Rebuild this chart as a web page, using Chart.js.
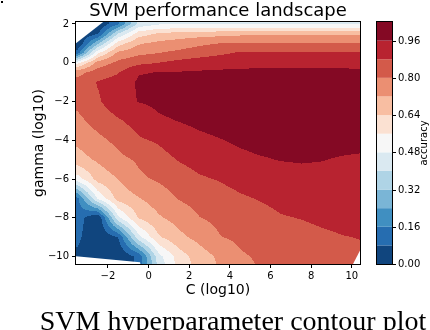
<!DOCTYPE html>
<html>
<head>
<meta charset="utf-8">
<script src="https://cdn.jsdelivr.net/npm/chart.js@4"></script>
<style>
  body { margin: 0; background: #fff; }
  canvas { display: block; }
</style>
</head>
<body>
<canvas id="contourChart" width="430" height="330"></canvas>
<script>
// grid nodes (log10 C across, log10 gamma down)
const cNodes = [-3.5, -2.5, -1.5, -0.5, 0.5, 1.5, 2.5, 3.5, 4.5, 5.5, 6.5, 7.5, 8.5, 9.5, 10.5];
const gammaNodes = [2, 1.5, 1, 0.5, 0, -0.5, -1, -2, -3, -4, -5, -6, -7, -8, -9, -10, -11];

// accuracy, one row per gamma node
const accG2    = [0.00, 0.00, 0.15, 0.42, 0.47, 0.47, 0.47, 0.47, 0.47, 0.47, 0.47, 0.47, 0.47, 0.47, 0.47];
const accG1_5  = [0.00, 0.07, 0.40, 0.60, 0.65, 0.67, 0.68, 0.69, 0.70, 0.70, 0.70, 0.70, 0.70, 0.70, 0.70];
const accG1    = [0.00, 0.30, 0.60, 0.71, 0.74, 0.76, 0.785, 0.80, 0.805, 0.805, 0.805, 0.805, 0.805, 0.805, 0.805];
const accG0_5  = [0.12, 0.55, 0.74, 0.78, 0.80, 0.82, 0.84, 0.865, 0.89, 0.89, 0.89, 0.89, 0.89, 0.89, 0.885];
const accG0    = [0.53, 0.75, 0.82, 0.86, 0.88, 0.905, 0.925, 0.935, 0.94, 0.945, 0.945, 0.945, 0.945, 0.945, 0.94];
const accGm0_5 = [0.77, 0.84, 0.875, 0.955, 0.962, 0.965, 0.968, 0.97, 0.972, 0.972, 0.972, 0.972, 0.972, 0.972, 0.97];
const accGm1   = [0.83, 0.885, 0.91, 0.97, 0.98, 0.985, 0.985, 0.985, 0.985, 0.985, 0.985, 0.985, 0.985, 0.985, 0.985];
const accGm2   = [0.82, 0.87, 0.93, 0.962, 0.975, 0.985, 0.985, 0.985, 0.985, 0.985, 0.985, 0.985, 0.985, 0.985, 0.985];
const accGm3   = [0.78, 0.83, 0.87, 0.91, 0.95, 0.962, 0.975, 0.985, 0.985, 0.985, 0.985, 0.985, 0.985, 0.985, 0.985];
const accGm4   = [0.735, 0.78, 0.82, 0.87, 0.89, 0.925, 0.945, 0.957, 0.97, 0.98, 0.98, 0.98, 0.98, 0.98, 0.98];
const accGm5   = [0.69, 0.73, 0.78, 0.81, 0.85, 0.885, 0.91, 0.93, 0.945, 0.955, 0.962, 0.965, 0.962, 0.955, 0.95];
const accGm6   = [0.52, 0.67, 0.72, 0.785, 0.81, 0.84, 0.87, 0.885, 0.905, 0.925, 0.935, 0.94, 0.94, 0.94, 0.935];
const accGm7   = [0.14, 0.49, 0.67, 0.715, 0.76, 0.805, 0.83, 0.85, 0.87, 0.885, 0.90, 0.91, 0.915, 0.915, 0.91];
const accGm8   = [0.12, 0.00, 0.46, 0.645, 0.71, 0.75, 0.798, 0.82, 0.84, 0.855, 0.875, 0.882, 0.89, 0.895, 0.895];
const accGm9   = [0.10, 0.00, 0.08, 0.45, 0.63, 0.70, 0.745, 0.797, 0.815, 0.835, 0.85, 0.86, 0.87, 0.878, 0.882];
const accGm10  = [0.06, 0.00, 0.00, 0.10, 0.45, 0.60, 0.68, 0.735, 0.79, 0.81, 0.825, 0.84, 0.855, 0.865, 0.87];
const accGm11  = [0.00, 0.00, 0.00, 0.10, 0.40, 0.58, 0.66, 0.72, 0.77, 0.80, 0.815, 0.83, 0.845, 0.855, 0.86];

// areas with no result (left white)
const noDataTopLeft = [[-3.8, 2.3], [-1.99, 2.3], [-3.8, 0.81]];
const noDataBottomLeft = [[-3.8, -9.96], [-0.42, -10.29], [-0.36, -10.6], [-3.8, -10.6]];
const noDataBottomRight = [[9.95, -10.6], [10.6, -9.27], [10.6, -10.6]];

const levels = [0.00, 0.08, 0.16, 0.24, 0.32, 0.40, 0.48, 0.56, 0.64, 0.72, 0.80, 0.88, 0.96, 1.04];
const bandColors = ['#10457e', '#266db0', '#408fc1', '#7ab5d6', '#afd4e6', '#dae9f1', '#f7f7f7',
                    '#fbe1d2', '#f8bea2', '#eb8f72', '#d35a4a', '#b82330', '#840924'];
const cTicks = [-2, 0, 2, 4, 6, 8, 10];
const gammaTicks = [-10, -8, -6, -4, -2, 0, 2];
const cbTicks = [0.00, 0.16, 0.32, 0.48, 0.64, 0.80, 0.96];

const accRows = [accG2, accG1_5, accG1, accG0_5, accG0, accGm0_5, accGm1, accGm2, accGm3,
                 accGm4, accGm5, accGm6, accGm7, accGm8, accGm9, accGm10, accGm11];

const FONT = '"DejaVu Sans", sans-serif';
const fmt = v => String(v).replace('-', '\u2212');

function cell(nodes, v) {
    // nodes may run up or down
    const n = nodes.length - 1;
    const dir = nodes[n] > nodes[0] ? 1 : -1;
    if ((v - nodes[0]) * dir <= 0) return [0, 0];
    if ((v - nodes[n]) * dir >= 0) return [n - 1, 1];
    let i = 0;
    while ((nodes[i + 1] - v) * dir < 0) i++;
    return [i, (v - nodes[i]) / (nodes[i + 1] - nodes[i])];
}

function accuracyAt(c, g) {
    const [i, tx] = cell(cNodes, c);
    const [j, ty] = cell(gammaNodes, g);
    const a = accRows[j][i], b = accRows[j][i + 1];
    const d = accRows[j + 1][i], e = accRows[j + 1][i + 1];
    return (a * (1 - tx) + b * tx) * (1 - ty) + (d * (1 - tx) + e * tx) * ty;
}

function hexRgb(h) {
    const n = parseInt(h.slice(1), 16);
    return [n >> 16, (n >> 8) & 255, n & 255];
}

const contourPlugin = {
    id: 'contour',
    beforeDatasetsDraw(chart) {
        const { ctx, chartArea: a, scales: { x, y } } = chart;
        const left = Math.round(a.left), top = Math.round(a.top);
        const w = Math.round(a.right) - left, h = Math.round(a.bottom) - top;
        const img = ctx.createImageData(w, h);
        const rgb = bandColors.map(hexRgb);
        for (let j = 0; j < h; j++) {
            const g = y.getValueForPixel(top + j + 0.5);
            for (let i = 0; i < w; i++) {
                const v = accuracyAt(x.getValueForPixel(left + i + 0.5), g);
                let k = 0;
                while (k < rgb.length - 1 && v >= levels[k + 1]) k++;
                const p = (j * w + i) * 4;
                img.data[p] = rgb[k][0];
                img.data[p + 1] = rgb[k][1];
                img.data[p + 2] = rgb[k][2];
                img.data[p + 3] = 255;
            }
        }
        ctx.putImageData(img, left, top);
    },
    afterDraw(chart) {
        const { ctx, chartArea: a, scales: { x, y, cb } } = chart;
        ctx.save();

        // blank out the empty corners
        ctx.save();
        ctx.beginPath();
        ctx.rect(a.left, a.top, a.right - a.left, a.bottom - a.top);
        ctx.clip();
        ctx.fillStyle = '#fff';
        [noDataTopLeft, noDataBottomLeft, noDataBottomRight].forEach(poly => {
            ctx.beginPath();
            poly.forEach(([c, g], n) => {
                const px = x.getPixelForValue(c), py = y.getPixelForValue(g);
                n ? ctx.lineTo(px, py) : ctx.moveTo(px, py);
            });
            ctx.closePath();
            ctx.fill();
        });
        ctx.restore();

        // frame round the plot
        ctx.strokeStyle = '#000';
        ctx.lineWidth = 1;
        ctx.strokeRect(a.left - 0.5, a.top - 0.5, a.right - a.left + 1, a.bottom - a.top + 1);

        // title, centred on the plot
        ctx.fillStyle = '#000';
        ctx.font = '18px ' + FONT;
        ctx.textAlign = 'center';
        ctx.textBaseline = 'alphabetic';
        ctx.fillText('SVM performance landscape', (a.left + a.right) / 2, 16);

        // colour bar
        const cbLeft = a.right + 17, cbW = 15;
        bandColors.forEach((col, k) => {
            const y1 = cb.getPixelForValue(levels[k]);
            const y2 = cb.getPixelForValue(levels[k + 1]);
            ctx.fillStyle = col;
            ctx.fillRect(cbLeft, y2, cbW, y1 - y2);
        });
        ctx.strokeRect(cbLeft - 0.5, a.top - 0.5, cbW + 1, a.bottom - a.top + 1);
        ctx.fillStyle = '#000';
        ctx.font = '10px ' + FONT;
        ctx.textAlign = 'left';
        ctx.textBaseline = 'middle';
        cbTicks.forEach(v => {
            const py = Math.round(cb.getPixelForValue(v)) + 0.5;
            ctx.beginPath();
            ctx.moveTo(cbLeft + cbW, py);
            ctx.lineTo(cbLeft + cbW + 4, py);
            ctx.stroke();
            ctx.fillText(v.toFixed(2), cbLeft + cbW + 6, py);
        });
        ctx.save();
        ctx.translate(424, (a.top + a.bottom) / 2);
        ctx.rotate(-Math.PI / 2);
        ctx.textAlign = 'center';
        ctx.fillText('accuracy', 0, 0);
        ctx.restore();

        // caption under the figure
        ctx.font = '28px "Liberation Serif", serif';
        ctx.textAlign = 'center';
        ctx.textBaseline = 'alphabetic';
        ctx.fillText('SVM hyperparameter contour plot', 233, 330);

        ctx.fillRect(1, 1, 2, 2);
        ctx.restore();
    }
};

const ctx = document.getElementById('contourChart').getContext('2d');
const contourChart = new Chart(ctx, {
    type: 'scatter',
    data: { datasets: [{ data: [] }] },
    options: {
        responsive: false,
        animation: false,
        devicePixelRatio: 1,
        layout: { padding: { left: 0, right: 70, top: 22, bottom: 0 } },
        plugins: {
            legend: { display: false },
            tooltip: { enabled: false },
            title: { display: false }
        },
        scales: {
            x: {
                type: 'linear',
                min: -3.57,
                max: 10.4,
                afterBuildTicks: s => { s.ticks = cTicks.map(v => ({ value: v })); },
                afterFit: s => { s.height = 66; },
                ticks: { color: '#000', font: { size: 10, family: FONT }, padding: 2, callback: fmt, maxRotation: 0 },
                grid: { display: true, drawOnChartArea: false, drawTicks: true, tickLength: 4, color: '#000' },
                border: { display: false },
                title: { display: true, text: 'C (log10)', color: '#000', font: { size: 14, family: FONT }, padding: { top: 0, bottom: 31 } }
            },
            y: {
                type: 'linear',
                min: -10.38,
                max: 2.1,
                afterBuildTicks: s => { s.ticks = gammaTicks.map(v => ({ value: v })); },
                afterFit: s => { s.width = 76; },
                ticks: { color: '#000', font: { size: 10, family: FONT }, padding: 3, callback: fmt },
                grid: { display: true, drawOnChartArea: false, drawTicks: true, tickLength: 4, color: '#000' },
                border: { display: false },
                title: { display: true, text: 'gamma (log10)', color: '#000', font: { size: 14, family: FONT }, padding: { top: 31, bottom: 0 } }
            },
            cb: {
                type: 'linear',
                position: 'right',
                min: levels[0],
                max: levels[levels.length - 1],
                display: false
            }
        }
    },
    plugins: [contourPlugin]
});
</script>
</body>
</html>
